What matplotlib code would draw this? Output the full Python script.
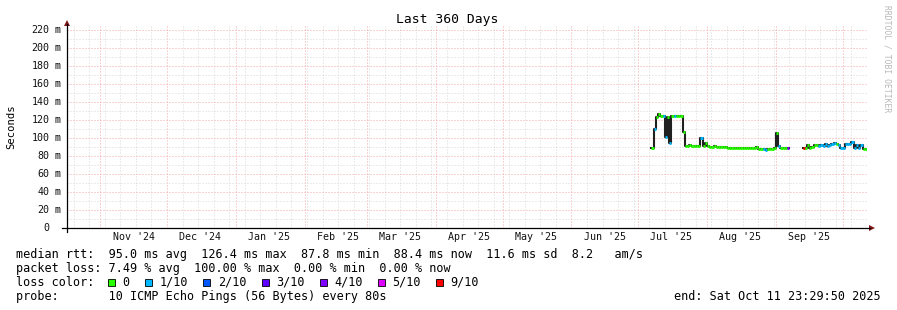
import numpy as np
import matplotlib
matplotlib.use("Agg")
import matplotlib.pyplot as plt
import matplotlib.dates as mdates
from matplotlib.patches import Rectangle, Polygon
from matplotlib.lines import Line2D
from matplotlib.ticker import MultipleLocator
from datetime import datetime, timedelta

# ---------------- data ----------------
title = "Last 360 Days"
ylabel = "Seconds"
end_time = datetime(2025, 10, 11, 23, 29, 50)
start_time = end_time - timedelta(days=360)

y_tick_values = [0, 20, 40, 60, 80, 100, 120, 140, 160, 180, 200, 220]
y_tick_units = ["", "m", "m", "m", "m", "m", "m", "m", "m", "m", "m", "m"]

month_starts = [datetime(2024, 11, 1), datetime(2024, 12, 1), datetime(2025, 1, 1),
                datetime(2025, 2, 1), datetime(2025, 3, 1), datetime(2025, 4, 1),
                datetime(2025, 5, 1), datetime(2025, 6, 1), datetime(2025, 7, 1),
                datetime(2025, 8, 1), datetime(2025, 9, 1)]
month_labels = ["Nov '24", "Dec '24", "Jan '25", "Feb '25", "Mar '25", "Apr '25",
                "May '25", "Jun '25", "Jul '25", "Aug '25", "Sep '25"]

first_day = datetime(2025, 7, 7)
nan = float("nan")
# daily median rtt (ms), Jul 7 .. Oct 11 2025
median_ms = [
    89, 110, 123, 126.4, 124, 124, 101, 123, 94, 124,          # Jul 7-16
    124.5, 124, 124, 124.5, 107, 91, 91.5, 92, 91, 91.5,        # Jul 17-26
    91, 91.5, 100, 91, 94, 91, 90.5, 90.5, 91, 90.5,            # Jul 27-Aug 5
    90.5, 90.5, 90.5, 90, 88.5, 88.5, 88.5, 88.5, 88.5, 88.5,   # Aug 6-15
    88.5, 88.5, 88.5, 88.5, 88.5, 88.5, 88.5, 90, 87.5, 88,     # Aug 16-25
    87.5, 87, 87.5, 87.5, 88, 88.5, 106, 91, 88.5, 88.5,        # Aug 26-Sep 4
    88.5, 88.5, nan, nan, nan, nan, nan, nan, 89, 89,           # Sep 5-14
    92, 89, 90, 92, 92, 91, 92, 91, 93, 91,                     # Sep 15-24
    92, 93, 94, 93, 92, 89, 88.5, 93, 93, 93,                   # Sep 25-Oct 4
    96, 89, 92, 89, 92, 88, 88,                                 # Oct 5-11
]
# loss level index per day (index into loss_labels), -1 = no data
loss_level = [
    0, 1, 0, 0, 0, 1, 1, 0, 1, 0,
    1, 0, 0, 0, 0, 0, 0, 0, 0, 0,
    0, 0, 1, 0, 0, 0, 0, 0, 0, 0,
    0, 0, 0, 0, 0, 0, 0, 0, 0, 0,
    0, 0, 0, 0, 0, 0, 0, 0, 0, 0,
    1, 1, 0, 0, 0, 0, 0, 1, 0, 0,
    0, 4, -1, -1, -1, -1, -1, -1, 6, 0,
    0, 0, 0, 0, 0, 1, 1, 1, 1, 1,
    1, 1, 1, 0, 1, 1, 1, 1, 1, 1,
    1, 1, 1, 1, 1, 0, 0,
]

loss_labels = ["0", "1/10", "2/10", "3/10", "4/10", "5/10", "9/10"]
loss_colors = ["#26ff00", "#00b8ff", "#0059ff", "#5e00ff", "#7e00ff", "#dd00ff", "#ff0000"]

stat_rows = [
    "median rtt:  95.0 ms avg  126.4 ms max  87.8 ms min  88.4 ms now  11.6 ms sd  8.2   am/s",
    "packet loss: 7.49 % avg  100.00 % max  0.00 % min  0.00 % now",
]
loss_row_label = "loss color:"
probe_row = "probe:       10 ICMP Echo Pings (56 Bytes) every 80s"
end_text = "end: Sat Oct 11 23:29:50 2025"
watermark = "RRDTOOL / TOBI OETIKER"

# ---------------- layout ----------------
W, H = 897, 310
DPI = 100
MONO = "DejaVu Sans Mono"
plt.rcParams["font.family"] = MONO

fig = plt.figure(figsize=(W / DPI, H / DPI), dpi=DPI, facecolor="white")

L, R, T, B = 67, 867, 25, 228
ax = fig.add_axes([L / W, 1 - B / H, (R - L) / W, (B - T) / H])
ax.set_facecolor("white")
for s in ax.spines.values():
    s.set_visible(False)

def fx(x):
    return x / W

def fy(y):
    return 1 - y / H

x0 = mdates.date2num(start_time)
x1 = mdates.date2num(end_time)
ax.set_xlim(x0, x1)
ax.set_ylim(0, 225.5)

ax.xaxis.set_major_locator(mdates.MonthLocator())
ax.xaxis.set_minor_locator(mdates.WeekdayLocator(byweekday=mdates.SU))
ax.yaxis.set_major_locator(MultipleLocator(20))
ax.yaxis.set_minor_locator(MultipleLocator(10))
ax.tick_params(which="both", length=0, labelbottom=False, labelleft=False)
dot = (0, (1, 2))
ax.grid(which="minor", color="#d8d8d8", linestyle=dot, linewidth=0.72, zorder=0)
ax.grid(which="major", color="#f4a8a8", linestyle=dot, linewidth=0.72, zorder=0)
ax.set_axisbelow(True)

# data
days = [first_day + timedelta(days=i) for i in range(len(median_ms))]
xd = mdates.date2num(days)
vals = np.array(median_ms, dtype=float)
xstep = np.append(xd, xd[-1] + 1)
ystep = np.append(vals, vals[-1])
ax.step(xstep, ystep, where="post", color="#202020", linewidth=1.5, zorder=3)
for i, (v, lv) in enumerate(zip(vals, loss_level)):
    if lv < 0 or np.isnan(v):
        continue
    ax.hlines(v, xd[i], xd[i] + 1, color=loss_colors[lv], linewidth=2.1, zorder=4)

# axes lines and arrows
ax_col = "black"
arrow_col = "#801818"
fig.add_artist(Line2D([fx(62), fx(870)], [fy(228), fy(228)], color=ax_col, lw=0.9))
fig.add_artist(Line2D([fx(67), fx(67)], [fy(232), fy(24)], color=ax_col, lw=0.9))
fig.add_artist(Polygon([[fx(869), fy(225)], [fx(875), fy(228)], [fx(869), fy(231)]],
                       closed=True, color=arrow_col, lw=0))
fig.add_artist(Polygon([[fx(64), fy(26)], [fx(67), fy(20)], [fx(70), fy(26)]],
                       closed=True, color=arrow_col, lw=0))

# y tick labels
tick_fs = 7.2
trans_y = matplotlib.transforms.blended_transform_factory(fig.transFigure, ax.transData)
for v, u in zip(y_tick_values, y_tick_units):
    fig.text(fx(49.5), v, str(v), transform=trans_y, ha="right", va="center",
             fontsize=tick_fs, color="#111111")
    if u:
        fig.text(fx(54.5), v, u, transform=trans_y, ha="left", va="center",
                 fontsize=tick_fs, color="#111111")

# month labels
trans_x = matplotlib.transforms.blended_transform_factory(ax.transData, fig.transFigure)
for d, lab in zip(month_starts, month_labels):
    xm = mdates.date2num(d + timedelta(days=15))
    fig.text(xm, fy(237.5), lab, transform=trans_x, ha="center", va="center",
             fontsize=tick_fs, color="#111111")

# title, y label, watermark
fig.text(fx(447), fy(19), title, ha="center", va="center", fontsize=9.4, color="black")
fig.text(fx(11), fy(127), ylabel, ha="center", va="center", rotation=90,
         fontsize=7.6, color="black")
fig.text(fx(887), fy(5), watermark, ha="center", va="top", rotation=270,
         fontsize=5.8, color="#b8b8b8")

# legend rows
leg_fs = 8.45
row_y = [254.3, 268.3, 282.3, 296.2]
for r, txt in enumerate(stat_rows):
    fig.text(fx(16), fy(row_y[r]), txt, ha="left", va="center", fontsize=leg_fs, color="black")
fig.text(fx(16), fy(row_y[2]), loss_row_label, ha="left", va="center", fontsize=leg_fs, color="black")
bx = 108.3
cw = 7.07
for lab, col in zip(loss_labels, loss_colors):
    fig.add_artist(Rectangle((fx(bx), fy(286)), 7 / W, 7 / H, facecolor=col,
                             edgecolor="black", linewidth=0.6))
    tx = bx + 14.3
    fig.text(fx(tx), fy(row_y[2]), lab, ha="left", va="center", fontsize=leg_fs, color="black")
    bx = tx + len(lab) * cw + 15.6
fig.text(fx(16), fy(row_y[3]), probe_row, ha="left", va="center", fontsize=leg_fs, color="black")
fig.text(fx(880.5), fy(row_y[3]), end_text, ha="right", va="center", fontsize=leg_fs, color="black")

fig.savefig("out.png", dpi=DPI, facecolor="white")
